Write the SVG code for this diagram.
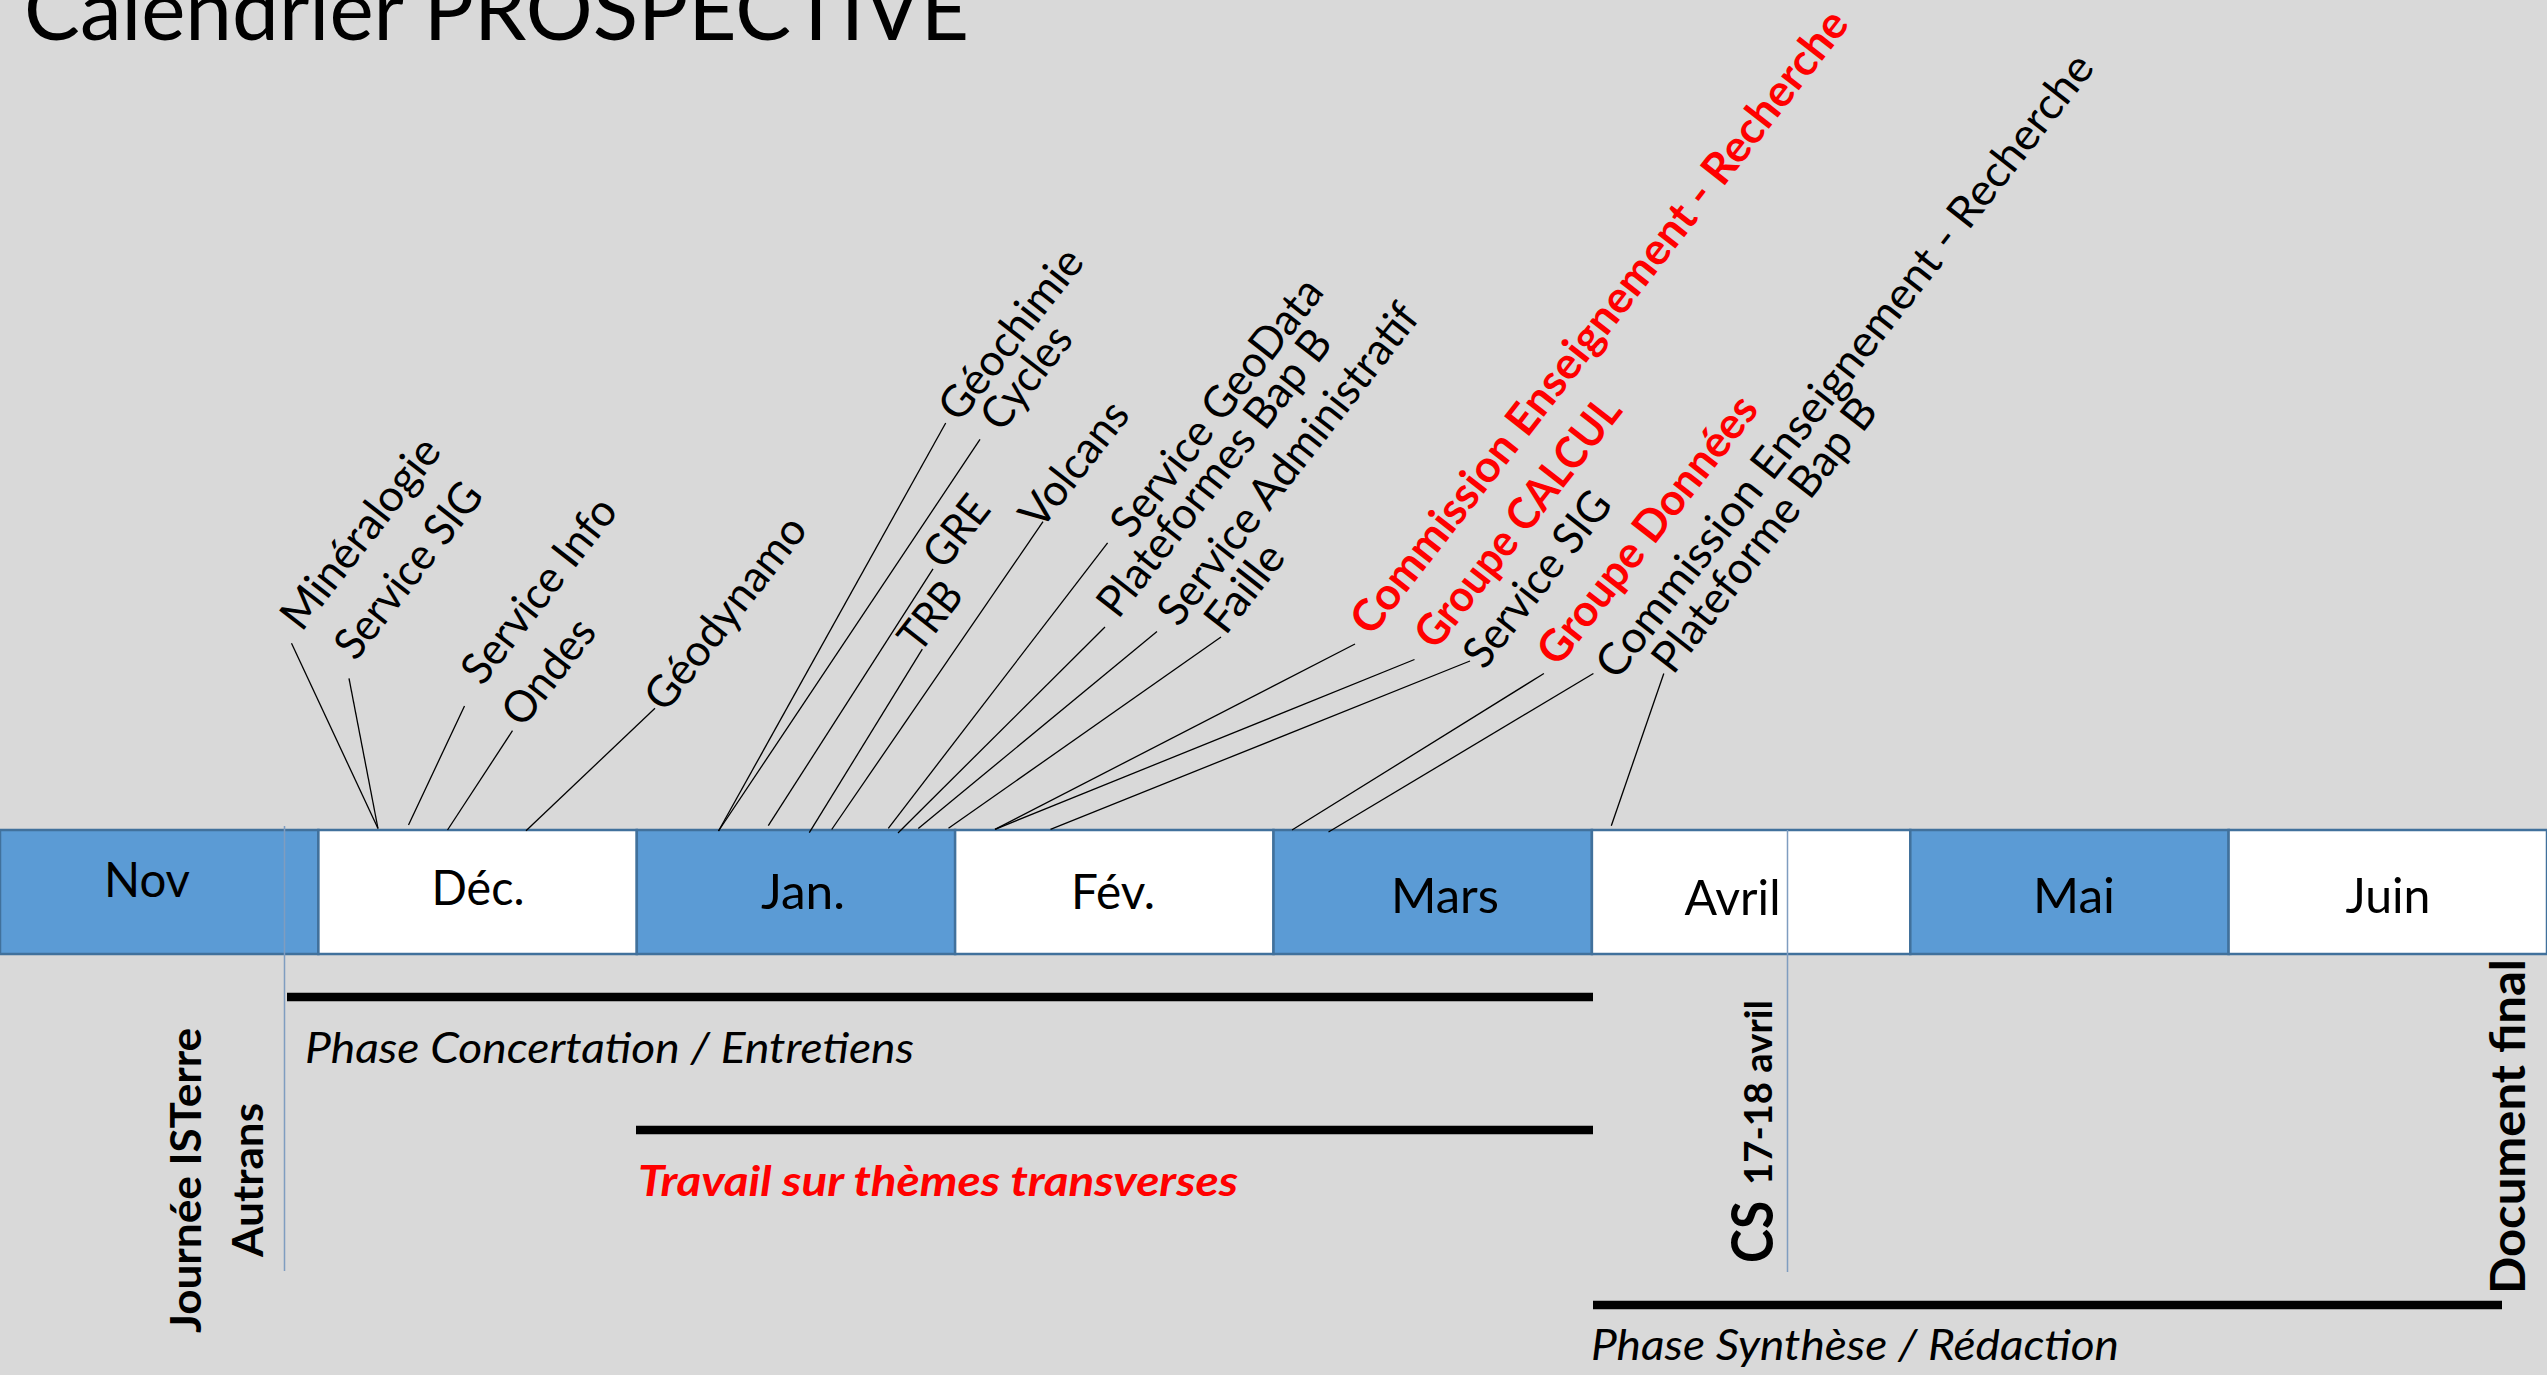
<svg xmlns="http://www.w3.org/2000/svg" width="2547" height="1375" viewBox="0 0 2547 1375">
<style>
.t{font-family:Lato,"Open Sans","DejaVu Sans",sans-serif;fill:#000}
.lab{font-size:44px}
.red{fill:#FF0000;font-weight:bold}
.mon{font-size:48px}
.ph{font-size:42.3px;font-style:italic}
.b{font-weight:bold}
.lead{stroke:#000;stroke-width:1.3;fill:none}
.blue{fill:#5B9BD5;stroke:#41719C;stroke-width:2.5}
.white{fill:#FFFFFF;stroke:#41719C;stroke-width:2.5}
.bar{stroke:#000;stroke-width:8.5}
.vl{stroke:#7F9DC0;stroke-width:1.5}
</style>
<rect x="0" y="0" width="2547" height="1375" fill="#D9D9D9"/>
<g id="title"><text class="t" x="24" y="40" font-size="85" textLength="945" lengthAdjust="spacingAndGlyphs">Calendrier PROSPECTIVE</text></g>
<g id="months">
<g id="m-nov"><rect class="blue" x="0" y="830" width="318.4" height="124"/><text class="t mon" x="147" y="897" text-anchor="middle" textLength="86" lengthAdjust="spacingAndGlyphs">Nov</text></g>
<g id="m-dec"><rect class="white" x="318.4" y="830" width="318.4" height="124"/><text class="t mon" x="478" y="905" text-anchor="middle" textLength="93" lengthAdjust="spacingAndGlyphs">Déc.</text></g>
<g id="m-jan"><rect class="blue" x="636.8" y="830" width="318.4" height="124"/><text class="t mon" x="803" y="909" text-anchor="middle" textLength="84" lengthAdjust="spacingAndGlyphs">Jan.</text></g>
<g id="m-fev"><rect class="white" x="955.1" y="830" width="318.4" height="124"/><text class="t mon" x="1113" y="909" text-anchor="middle" textLength="84" lengthAdjust="spacingAndGlyphs">Fév.</text></g>
<g id="m-mars"><rect class="blue" x="1273.5" y="830" width="318.4" height="124"/><text class="t mon" x="1445" y="912.7" text-anchor="middle" textLength="108" lengthAdjust="spacingAndGlyphs">Mars</text></g>
<g id="m-avril"><rect class="white" x="1591.9" y="830" width="318.4" height="124"/><text class="t mon" x="1732.5" y="915" text-anchor="middle" textLength="96" lengthAdjust="spacingAndGlyphs">Avril</text></g>
<g id="m-mai"><rect class="blue" x="1910.3" y="830" width="318.4" height="124"/><text class="t mon" x="2074" y="912.7" text-anchor="middle" textLength="82" lengthAdjust="spacingAndGlyphs">Mai</text></g>
<g id="m-juin"><rect class="white" x="2228.6" y="830" width="318.4" height="124"/><text class="t mon" x="2388" y="912.7" text-anchor="middle" textLength="85" lengthAdjust="spacingAndGlyphs">Juin</text></g>
</g>
<g id="labels">
<g id="l-mineralogie"><text class="t lab" transform="translate(301.4,633) rotate(-52)" textLength="229.8" lengthAdjust="spacingAndGlyphs">Minéralogie</text></g>
<g id="l-sig1"><text class="t lab" transform="translate(355.5,662.3) rotate(-52)" textLength="210.4" lengthAdjust="spacingAndGlyphs">Service SIG</text></g>
<g id="l-info"><text class="t lab" transform="translate(482.2,687.3) rotate(-52)" textLength="222.9" lengthAdjust="spacingAndGlyphs">Service Info</text></g>
<g id="l-ondes"><text class="t lab" transform="translate(522.8,729) rotate(-52)" textLength="122.2" lengthAdjust="spacingAndGlyphs">Ondes</text></g>
<g id="l-geodynamo"><text class="t lab" transform="translate(665.5,714) rotate(-52)" textLength="233.3" lengthAdjust="spacingAndGlyphs">Géodynamo</text></g>
<g id="l-geochimie"><text class="t lab" transform="translate(959.5,424) rotate(-52)" textLength="204.9" lengthAdjust="spacingAndGlyphs">Géochimie</text></g>
<g id="l-cycles"><text class="t lab" transform="translate(1001.5,433.6) rotate(-52)" textLength="118.8" lengthAdjust="spacingAndGlyphs">Cycles</text></g>
<g id="l-gre"><text class="t lab" transform="translate(944.3,571.3) rotate(-52)" textLength="78.1" lengthAdjust="spacingAndGlyphs">GRE</text></g>
<g id="l-trb"><text class="t lab" transform="translate(919.4,654.4) rotate(-52)" textLength="74" lengthAdjust="spacingAndGlyphs">TRB</text></g>
<g id="l-volcans"><text class="t lab" transform="translate(1040.6,531.5) rotate(-52)" textLength="147.6" lengthAdjust="spacingAndGlyphs">Volcans</text></g>
<g id="l-geodata"><text class="t lab" transform="translate(1131.5,540.6) rotate(-52)" textLength="314.8" lengthAdjust="spacingAndGlyphs">Service GeoData</text></g>
<g id="l-plateformes"><text class="t lab" transform="translate(1117.9,620.3) rotate(-52)" textLength="351.1" lengthAdjust="spacingAndGlyphs">Plateformes Bap B</text></g>
<g id="l-admin"><text class="t lab" transform="translate(1178.5,628.6) rotate(-52)" textLength="394" lengthAdjust="spacingAndGlyphs">Service Administratif</text></g>
<g id="l-faille"><text class="t lab" transform="translate(1225.6,636.6) rotate(-52)" textLength="99.8" lengthAdjust="spacingAndGlyphs">Faille</text></g>
<g id="l-commission-red"><text class="t lab red" transform="translate(1371.5,637.6) rotate(-52)" textLength="778" lengthAdjust="spacingAndGlyphs">Commission Enseignement - Recherche</text></g>
<g id="l-calcul"><text class="t lab red" transform="translate(1435.7,651.6) rotate(-52)" textLength="305" lengthAdjust="spacingAndGlyphs">Groupe CALCUL</text></g>
<g id="l-sig2"><text class="t lab" transform="translate(1484.2,671) rotate(-52)" textLength="210.4" lengthAdjust="spacingAndGlyphs">Service SIG</text></g>
<g id="l-donnees"><text class="t lab red" transform="translate(1558.2,668.2) rotate(-52)" textLength="327.7" lengthAdjust="spacingAndGlyphs">Groupe Données</text></g>
<g id="l-commission"><text class="t lab" transform="translate(1616.8,681.4) rotate(-52)" textLength="778" lengthAdjust="spacingAndGlyphs">Commission Enseignement - Recherche</text></g>
<g id="l-plateforme"><text class="t lab" transform="translate(1673.1,675.9) rotate(-52)" textLength="335" lengthAdjust="spacingAndGlyphs">Plateforme Bap B</text></g>
</g>
<g id="connectors">
<line class="lead" x1="291.5" y1="643.3" x2="378" y2="828.5"/>
<line class="lead" x1="349" y1="678.3" x2="378" y2="828.5"/>
<line class="lead" x1="464.5" y1="706" x2="408.5" y2="825"/>
<line class="lead" x1="512.5" y1="730.7" x2="447.5" y2="830"/>
<line class="lead" x1="655" y1="708.3" x2="526" y2="830.7"/>
<line class="lead" x1="945.7" y1="423" x2="718.5" y2="831"/>
<line class="lead" x1="980" y1="439.4" x2="718.5" y2="831"/>
<line class="lead" x1="933" y1="568.8" x2="768.3" y2="825.7"/>
<line class="lead" x1="922.3" y1="649.2" x2="809.3" y2="832.7"/>
<line class="lead" x1="1043" y1="521.7" x2="831.7" y2="829.5"/>
<line class="lead" x1="1107.6" y1="542.8" x2="888.3" y2="828.3"/>
<line class="lead" x1="1105" y1="627" x2="898" y2="833"/>
<line class="lead" x1="1157" y1="631.6" x2="918.3" y2="828.5"/>
<line class="lead" x1="1221" y1="637" x2="948.5" y2="828.3"/>
<line class="lead" x1="1355" y1="644" x2="995" y2="829.3"/>
<line class="lead" x1="1414.5" y1="659.5" x2="995" y2="829.3"/>
<line class="lead" x1="1470" y1="661" x2="1050.5" y2="829.3"/>
<line class="lead" x1="1543.9" y1="673.5" x2="1292" y2="830"/>
<line class="lead" x1="1593.4" y1="673.5" x2="1328.5" y2="832"/>
<line class="lead" x1="1663.8" y1="673.5" x2="1611.3" y2="825.8"/>
</g>
<g id="milestones">
<line class="vl" x1="284.5" y1="826" x2="284.5" y2="1271"/>
<line class="vl" x1="1787.5" y1="830" x2="1787.5" y2="1272"/>
</g>
<g id="phases">
<line class="bar" x1="287" y1="997" x2="1593" y2="997"/>
<line class="bar" x1="636" y1="1130" x2="1593" y2="1130"/>
<line class="bar" x1="1593" y1="1305" x2="2502" y2="1305"/>
<text class="t ph" x="305" y="1063" textLength="609" lengthAdjust="spacingAndGlyphs">Phase Concertation / Entretiens</text>
<text class="t ph red" x="638" y="1196" textLength="600" lengthAdjust="spacingAndGlyphs">Travail sur thèmes transverses</text>
<text class="t ph" x="1591" y="1360" textLength="528" lengthAdjust="spacingAndGlyphs">Phase Synthèse / Rédaction</text>
</g>
<g id="events">
<text class="t b" font-size="42.3" transform="translate(201,1333) rotate(-90)" textLength="305" lengthAdjust="spacingAndGlyphs">Journée ISTerre</text>
<text class="t b" font-size="42.3" transform="translate(263,1257) rotate(-90)" textLength="154" lengthAdjust="spacingAndGlyphs">Autrans</text>
<text class="t b" font-size="58" transform="translate(1773,1263) rotate(-90)" textLength="62" lengthAdjust="spacingAndGlyphs">CS</text>
<text class="t b" font-size="38" transform="translate(1772,1185) rotate(-90)" textLength="185" lengthAdjust="spacingAndGlyphs">17-18 avril</text>
<text class="t b" font-size="47" transform="translate(2525,1294) rotate(-90)" textLength="335" lengthAdjust="spacingAndGlyphs">Document final</text>
</g>
</svg>
